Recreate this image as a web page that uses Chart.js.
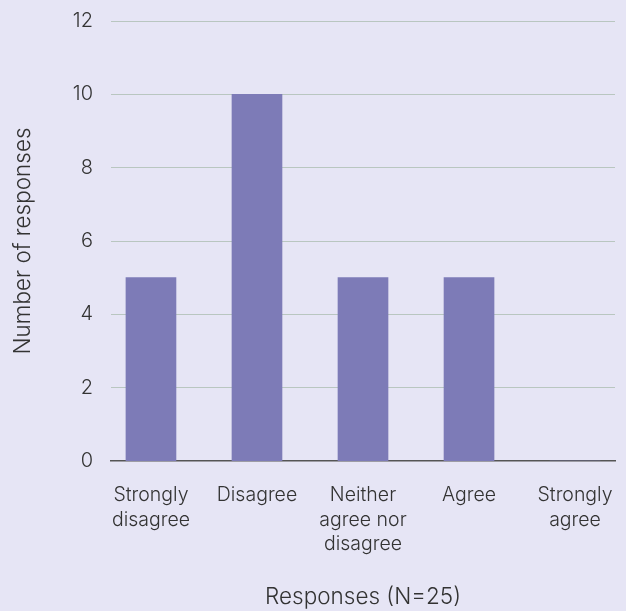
<!DOCTYPE html>
<html>
<head>
<meta charset="utf-8">
<script src="https://cdn.jsdelivr.net/npm/chart.js@4/dist/chart.umd.min.js"></script>
<style>
  html, body { margin: 0; padding: 0; background: #e6e5f5; }
  #wrap { width: 626px; height: 611px; }
</style>
</head>
<body>
<div id="wrap"><canvas id="c" width="626" height="611"></canvas></div>
<script>
// Survey answers (Likert scale) and how many respondents chose each
const categories = [
  ['Strongly', 'disagree'],
  ['Disagree'],
  ['Neither', 'agree nor', 'disagree'],
  ['Agree'],
  ['Strongly', 'agree']
];
const responseCounts = [5, 10, 5, 5, 0];
const yTicks = [0, 2, 4, 6, 8, 10, 12];

const textColor = '#333333';
const fontFamily = 'Inter, "Liberation Sans", Arial, sans-serif';

const points = responseCounts.map((v, i) => ({ x: i, y: v }));

new Chart(document.getElementById('c'), {
  type: 'bar',
  data: {
    datasets: [{
      data: points,
      backgroundColor: '#7d7bb7',
      borderWidth: 0,
      barThickness: 50
    }]
  },
  options: {
    responsive: false,
    animation: false,
    layout: { padding: { left: 0, right: 11, top: 21, bottom: 0 } },
    plugins: { legend: { display: false }, tooltip: { enabled: false } },
    scales: {
      x: {
        type: 'linear',
        offset: false,
        min: -0.377,
        max: categories.length - 1 + 0.377,
        grid: { display: false, drawTicks: false },
        border: { display: true, color: '#555555', width: 1.5 },
        ticks: {
          stepSize: 1,
          includeBounds: false,
          autoSkip: false,
          maxRotation: 0,
          padding: 22,
          color: textColor,
          font: { family: fontFamily, size: 19.5, weight: 300, lineHeight: 1.26 },
          callback: (v) => categories[v]
        },
        title: {
          display: true,
          text: 'Responses (N=25)',
          color: textColor,
          font: { family: fontFamily, size: 22.5, weight: 300, lineHeight: 1.2 },
          padding: { top: 0, bottom: 0 }
        },
        afterFit: (s) => { s.height = 150; s.paddingLeft = 0; s.paddingRight = 0; }
      },
      y: {
        min: yTicks[0],
        max: yTicks[yTicks.length - 1],
        grid: {
          drawTicks: false,
          color: '#b9c6c0',
          lineWidth: (ctx) => (ctx.tick && ctx.tick.value === 0 ? 0 : 1)
        },
        border: { display: false },
        afterBuildTicks: (s) => { s.ticks = yTicks.map(v => ({ value: v })); },
        ticks: {
          padding: 18,
          color: textColor,
          font: { family: fontFamily, size: 20, weight: 300 }
        },
        title: {
          display: true,
          text: 'Number of responses',
          color: textColor,
          font: { family: fontFamily, size: 22.5, weight: 300, lineHeight: 1.2 },
          padding: { top: 10, bottom: 0 }
        },
        afterFit: (s) => { s.width = 111; s.paddingTop = 0; s.paddingBottom = 0; }
      }
    }
  }
});
</script>
</body>
</html>
